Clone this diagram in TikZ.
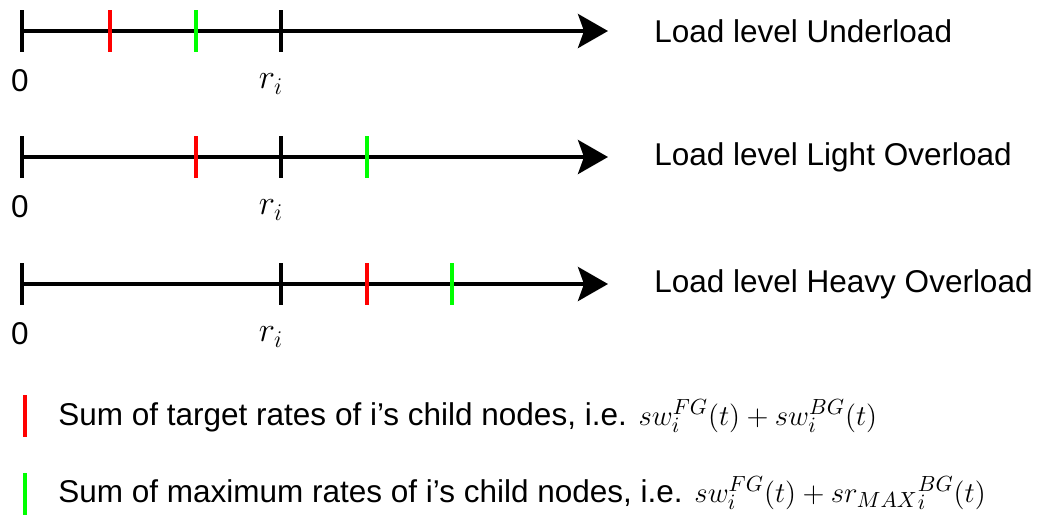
\documentclass[tikz,border=0pt]{standalone}
\usepackage{fontspec}
\setmainfont{Liberation Sans}
\usetikzlibrary{arrows.meta}
\tikzset{
  axisline/.style={line width=2pt, -{Stealth[length=15pt,width=17pt,inset=3pt]}},
  tickblack/.style={line width=2pt, black},
  tickred/.style={line width=2pt, red},
  tickgreen/.style={line width=2pt, green},
  lbl/.style={inner sep=0pt, font=\fontsize{15.75}{19}\selectfont},
  mathlbl/.style={inner sep=0pt, font=\fontsize{17}{20}\selectfont},
}
\begin{document}
\begin{tikzpicture}[x=0.5pt,y=-0.5pt]
\useasboundingbox (0,0) rectangle (1037,515);
% three number lines, one per load level
\foreach \row/\yy/\rx/\gx/\name in {1/31/110/196/Underload, 2/157/196/367/Light Overload, 3/284/367/452/Heavy Overload}{
  \coordinate (s\row) at (22,\yy);
  \coordinate (e\row) at (608,\yy);
  \draw[axisline] (s\row) -- (e\row);
  \draw[tickblack] (22,\yy-21) -- (22,\yy+21);
  \draw[tickblack] (281,\yy-21) -- (281,\yy+21);
  \draw[tickred] (\rx,\yy-21) -- (\rx,\yy+21);
  \draw[tickgreen] (\gx,\yy-21) -- (\gx,\yy+21);
  \node[lbl] (zero\row) at (20,\yy+50) {0};
  \node[mathlbl] (r\row) at (271,\yy+53) {$r_i$};
  \node[lbl, anchor=west] (level\row) at (654,\yy) {Load level \name};
}
% legend
\draw[tickred] (25,395) -- (25,437);
\node[lbl, anchor=west] (legred) at (58,416) {Sum of target rates of i’s child nodes, i.e. $sw_i^{FG}(t)+sw_i^{BG}(t)$};
\draw[tickgreen] (25,473) -- (25,515);
\node[lbl, anchor=west] (leggreen) at (58,493) {Sum of maximum rates of i’s child nodes, i.e. $sw_i^{FG}(t)+{sr_{MAX}}_i^{BG}(t)$};
\end{tikzpicture}
\end{document}
